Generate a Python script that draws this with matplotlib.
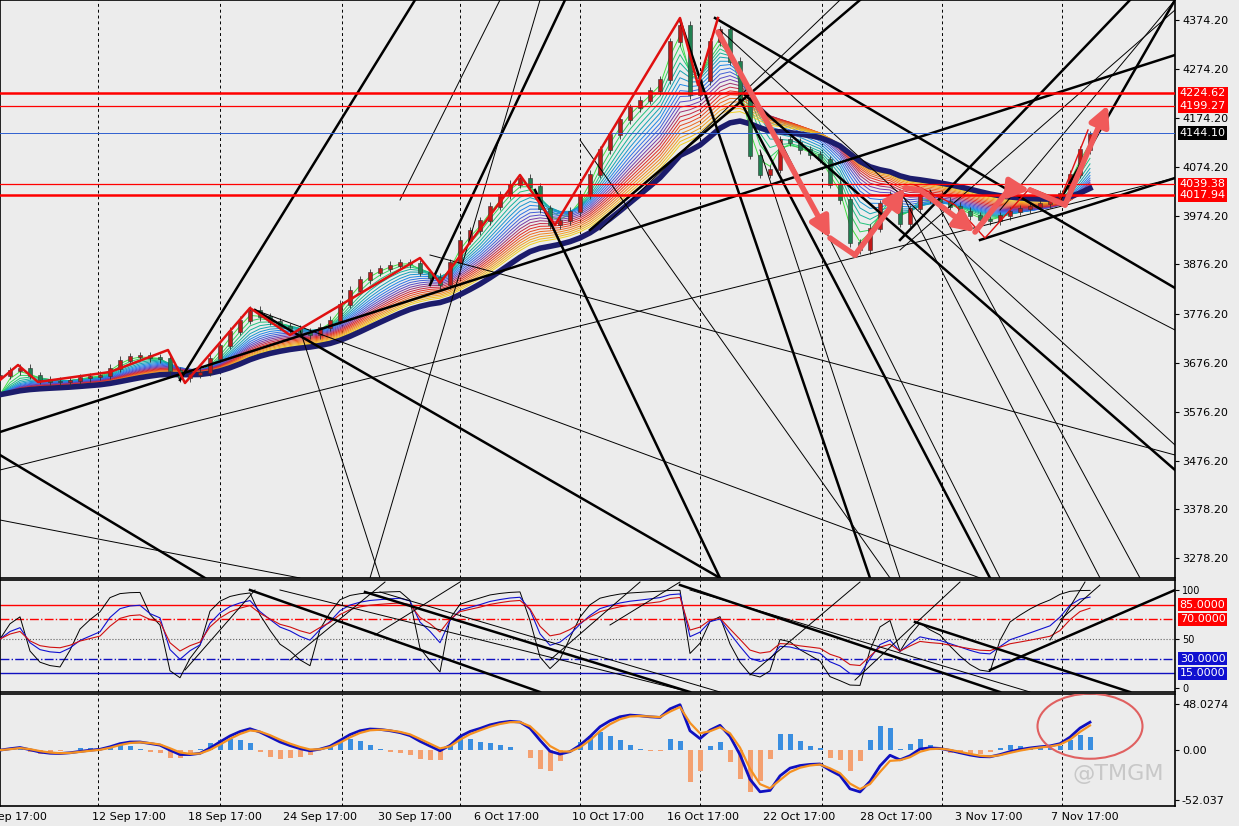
import numpy as np
import matplotlib
matplotlib.use('Agg')
import matplotlib.pyplot as plt
from matplotlib.patches import Ellipse
from matplotlib.colors import LinearSegmentedColormap

closes = [3651, 3660, 3665, 3650, 3641, 3638, 3637, 3640, 3645, 3648,
          3651, 3665, 3681, 3688, 3690, 3686, 3684, 3660, 3645, 3652,
          3657, 3685, 3712, 3740, 3763, 3783, 3770, 3760, 3750, 3745,
          3738, 3733, 3748, 3763, 3795, 3824, 3845, 3860, 3868, 3875,
          3880, 3878, 3860, 3850, 3835, 3880, 3926, 3945, 3965, 3995,
          4018, 4040, 4052, 4035, 3990, 3957, 3965, 3985, 4018, 4060,
          4110, 4140, 4171, 4195, 4211, 4230, 4252, 4330, 4364, 4222,
          4250, 4330, 4354, 4290, 4211, 4099, 4060, 4070, 4130, 4125,
          4110, 4100, 4090, 4040, 4008, 3920, 3906, 3950, 4000, 4018,
          3960, 3990, 4018, 4010, 4005, 3995, 3985, 3975, 3967, 3965,
          3975, 3985, 3990, 3995, 4000, 4005, 4020, 4060, 4110, 4140]
bar_step = 10

# horizontal levels
levels = [4224.62, 4199.27, 4144.10, 4039.38, 4017.94]
level_colors = ['red', 'red', '#3060d0', 'red', 'red']
level_widths = [1.8, 0.9, 0.7, 0.9, 1.8]
level_boxes = ['red', 'red', 'black', 'red', 'red']
price_ticks = [4374.2, 4274.2, 4174.2, 4074.2, 3974.2, 3876.2, 3776.2,
               3676.2, 3576.2, 3476.2, 3378.2, 3278.2]

date_labels = ['8 Sep 17:00', '12 Sep 17:00', '18 Sep 17:00', '24 Sep 17:00',
               '30 Sep 17:00', '6 Oct 17:00', '10 Oct 17:00', '16 Oct 17:00',
               '22 Oct 17:00', '28 Oct 17:00', '3 Nov 17:00', '7 Nov 17:00']
date_pos = [-20, 92, 188, 283, 378, 474, 572, 667, 763, 860, 955, 1051]
grid_x = [98, 220, 342, 460, 580, 700, 822, 942, 1062]

# drawn trend lines (x px, screen y px)
thick_lines = [(0, 432, 1175, 55), (180, 380, 415, 0), (430, 285, 565, 0),
               (0, 455, 205, 578), (255, 310, 720, 578), (535, 190, 720, 578),
               (715, 18, 1175, 288), (745, 95, 1175, 470), (740, 100, 990, 578),
               (980, 240, 1175, 178), (900, 240, 1130, 0), (590, 230, 860, 0),
               (1060, 200, 1175, 0), (680, 20, 870, 578)]
thin_lines = [(0, 470, 1175, 178), (255, 310, 980, 578), (430, 255, 1175, 455),
              (300, 330, 380, 578), (720, 30, 1175, 445), (580, 140, 890, 578),
              (780, 140, 1000, 578), (900, 190, 1100, 578), (930, 190, 1140, 578),
              (1000, 240, 1175, 330), (400, 200, 500, 0), (600, 230, 840, 0),
              (1000, 210, 1175, 0), (900, 250, 1175, 10), (540, 0, 370, 578),
              (760, 150, 900, 578), (0, 520, 300, 578)]
red_zigzag = [(0, 380), (18, 365), (38, 382), (110, 372), (168, 350), (185, 383),
              (250, 308), (290, 335), (420, 258), (440, 283), (520, 175),
              (555, 225), (680, 18), (698, 85), (718, 18)]
red_thin = [(915, 185), (955, 205), (985, 238), (1030, 188), (1060, 200), (1088, 130)]
arrows = [(718, 32), (830, 238), (855, 255), (905, 188), (920, 190), (975, 232),
          (1010, 188), (1030, 190), (1065, 205), (1108, 105)]

rsi_thick = [(250, 590, 540, 692), (365, 592, 690, 692), (680, 585, 1000, 692),
             (915, 622, 1130, 692), (990, 670, 1175, 590)]
rsi_thin = [(185, 670, 255, 590), (290, 660, 385, 582), (375, 635, 460, 582),
            (550, 660, 640, 582), (610, 625, 680, 582), (750, 675, 860, 582),
            (855, 680, 960, 582), (280, 590, 690, 692), (690, 590, 1030, 692),
            (380, 592, 720, 692), (1050, 640, 1085, 582), (1060, 620, 1100, 585)]

BG = '#ececec'
ribbon_cmap = LinearSegmentedColormap.from_list(
    'ribbon', ['#40e040', '#10b0a0', '#2080f0', '#6040c0', '#e02020', '#f08020', '#f0d020'])


def px2price(y):
    return 4374.2 - (y - 20) * 2.037


def px2rsi(y):
    return (688 - y) * 100 / 98.0


def ema(v, n, start_off=0.0):
    out = np.empty(len(v))
    a = 2.0 / (n + 1)
    out[0] = v[0] + start_off
    for i in range(1, len(v)):
        out[i] = a * v[i] + (1 - a) * out[i - 1]
    return out


def rsi(v, n):
    d = np.diff(v, prepend=v[0])
    up = np.where(d > 0, d, 0.0)
    dn = np.where(d < 0, -d, 0.0)
    au, ad = np.empty(len(v)), np.empty(len(v))
    au[0], ad[0] = 5.0, 5.0
    for i in range(1, len(v)):
        au[i] = (au[i - 1] * (n - 1) + up[i]) / n
        ad[i] = (ad[i - 1] * (n - 1) + dn[i]) / n
    return 100 * au / (au + ad + 1e-9)


c = np.array(closes, dtype=float)
x = np.arange(len(c)) * bar_step
opens = np.concatenate([[c[0] - 5], c[:-1]])

fig = plt.figure(figsize=(12.39, 8.26), dpi=100)
fig.patch.set_facecolor(BG)
W = 1175 / 1239
ax = fig.add_axes([0, 1 - 578 / 826, W, 578 / 826])
ax_r = fig.add_axes([0, 1 - 692 / 826, W, 112 / 826])
ax_m = fig.add_axes([0, 1 - 806 / 826, W, 112 / 826])

for a in (ax, ax_r, ax_m):
    a.set_facecolor(BG)
    a.set_xlim(0, 1175)
    for gx in grid_x:
        a.axvline(gx, color='black', ls=(0, (3, 3)), lw=0.7)
    a.yaxis.tick_right()
    a.tick_params(axis='y', labelsize=8, length=3, pad=2)
    a.tick_params(axis='x', length=0)
    for s in a.spines.values():
        s.set_color('black')
        s.set_linewidth(1.2)
    a.set_xticks([])

# --- main panel
ax.set_ylim(px2price(578), px2price(0))
ax.set_yticks(price_ticks)
ax.set_yticklabels(['%.2f' % p for p in price_ticks])

periods = list(range(2, 22))
for k, n in enumerate(periods):
    ax.plot(x, ema(c, n, -40), color=ribbon_cmap(k / (len(periods) - 1)), lw=0.7, zorder=2)
ax.plot(x, ema(c, 24, -40), color='#1c1c6c', lw=4, zorder=3)

for xi, o, cl in zip(x, opens, c):
    col = '#c01818' if cl >= o else '#208050'
    ax.vlines(xi, min(o, cl) - 8, max(o, cl) + 8, color='#303030', lw=0.6, zorder=4)
    ax.bar(xi, abs(cl - o) + 2, bottom=min(o, cl) - 1, width=4, color=col,
           edgecolor='#303030', lw=0.4, zorder=5)

for x1, y1, x2, y2 in thick_lines:
    ax.plot([x1, x2], [px2price(y1), px2price(y2)], color='black', lw=1.8, zorder=6)
for x1, y1, x2, y2 in thin_lines:
    ax.plot([x1, x2], [px2price(y1), px2price(y2)], color='black', lw=0.7, zorder=6)

zx, zy = zip(*red_zigzag)
ax.plot(zx, [px2price(v) for v in zy], color='#e01010', lw=1.8, zorder=7)
rx, ry = zip(*red_thin)
ax.plot(rx, [px2price(v) for v in ry], color='#e01010', lw=1.0, zorder=7)

for i in range(0, len(arrows) - 1):
    (xa, ya), (xb, yb) = arrows[i], arrows[i + 1]
    head = i in (0, 2, 4, 6, 8)
    ax.annotate('', xy=(xb, px2price(yb)), xytext=(xa, px2price(ya)),
                arrowprops=dict(arrowstyle='-|>,head_width=0.6,head_length=1.2' if head else '-',
                                color='#f05a5a', lw=4, shrinkA=0, shrinkB=0),
                zorder=8)

for lv, lc, lw, bc in zip(levels, level_colors, level_widths, level_boxes):
    ax.axhline(lv, color=lc, lw=lw, zorder=6)
    ax.text(1.004, lv, '%.2f' % lv, transform=ax.get_yaxis_transform(), fontsize=8,
            color='white', va='center', ha='left',
            bbox=dict(boxstyle='square,pad=0.15', fc=bc, ec='none'), clip_on=False)

# --- RSI panel
ax_r.set_ylim(px2rsi(692), px2rsi(580))
ax_r.set_yticks([0, 50, 100])
ax_r.tick_params(axis='y', labelsize=7)
ax_r.plot(x, rsi(c, 3), color='black', lw=0.7, zorder=4)
ax_r.plot(x, rsi(c, 6), color='#1010d0', lw=0.8, zorder=4)
ax_r.plot(x, rsi(c, 9), color='#d01010', lw=0.8, zorder=4)
ax_r.axhline(85, color='red', lw=1)
ax_r.axhline(70, color='red', lw=1, ls='-.')
ax_r.axhline(50, color='#606060', lw=0.8, ls=':')
ax_r.axhline(30, color='#1010c0', lw=1, ls='-.')
ax_r.axhline(15, color='#1010c0', lw=1)
for v, bc in [(85, 'red'), (70, 'red'), (30, '#1010d0'), (15, '#1010d0')]:
    ax_r.text(1.004, v, '%.4f' % v, transform=ax_r.get_yaxis_transform(), fontsize=8,
              color='white', va='center', ha='left',
              bbox=dict(boxstyle='square,pad=0.15', fc=bc, ec='none'), clip_on=False)
for x1, y1, x2, y2 in rsi_thick:
    ax_r.plot([x1, x2], [px2rsi(y1), px2rsi(y2)], color='black', lw=1.8, zorder=5)
for x1, y1, x2, y2 in rsi_thin:
    ax_r.plot([x1, x2], [px2rsi(y1), px2rsi(y2)], color='black', lw=0.7, zorder=5)

# --- MACD panel
macd = (ema(c, 3) - ema(c, 8)) * 0.6
sig = ema(macd, 2)
hist = (macd - sig) * 4.0
ax_m.set_ylim(-58.4, 58.7)
ax_m.set_yticks([48.0274, 0, -52.037])
ax_m.set_yticklabels(['48.0274', '0.00', '-52.037'])
ax_m.bar(x, hist, width=5, color=np.where(hist >= 0, '#3a8ee0', '#f4a070'), zorder=3)
ax_m.plot(x, macd, color='#1010c0', lw=2, zorder=4)
ax_m.plot(x, sig, color='#f59020', lw=1.6, zorder=5)
ax_m.add_patch(Ellipse((1090, 25), 105, 68, fill=False, ec='#e06060', lw=1.5, zorder=6))
ax_m.text(1072, -25, '@TMGM', fontsize=16, color='#c8c8c8', ha='left', va='center',
          zorder=7, clip_on=False)

for lab, p in zip(date_labels, date_pos):
    fig.text(p / 1239, 1 - 817 / 826, lab, fontsize=8, ha='left', va='center')

fig.savefig('out.png', dpi=100, facecolor=BG)
